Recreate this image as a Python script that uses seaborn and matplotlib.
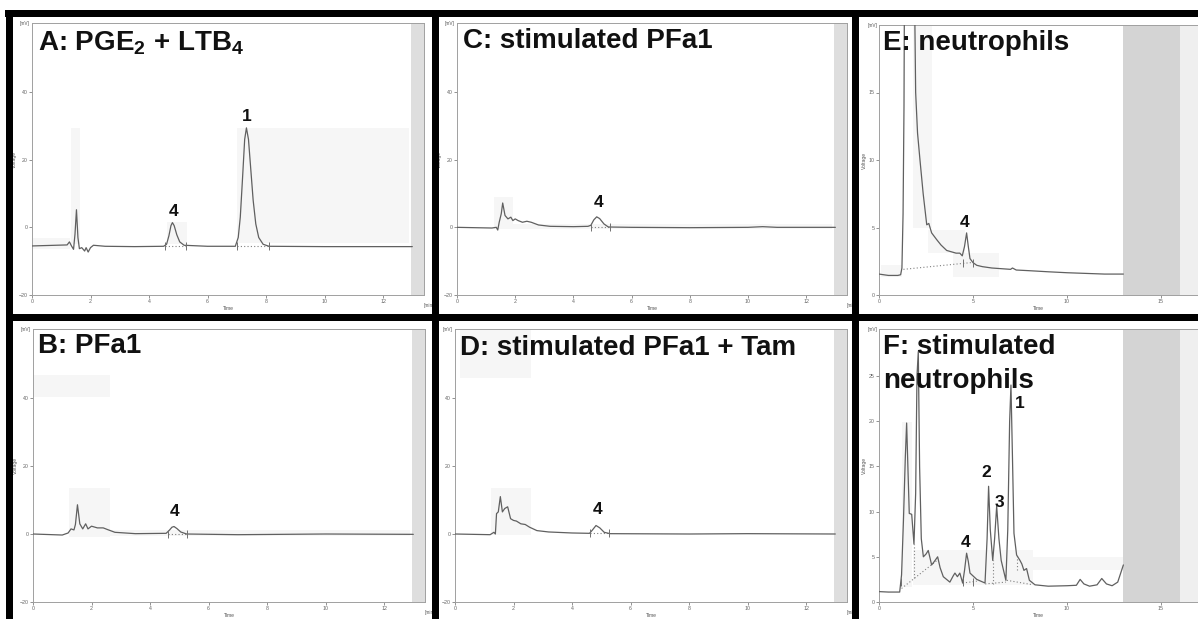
import matplotlib.pyplot as plt
import matplotlib.patches as mpatches
import seaborn as sns

# chromatogram traces: time [min] vs voltage [mV]
a_time = [0, 1.2, 1.28, 1.35, 1.42, 1.47, 1.52, 1.57, 1.62, 1.7, 1.8, 1.85, 1.92, 2.0, 2.1, 2.5, 3.5, 4.5, 4.6, 4.68,
          4.75, 4.8, 4.86, 4.95, 5.05, 5.2, 6.0, 6.95, 7.05, 7.12, 7.2, 7.27, 7.33, 7.4, 7.48, 7.56, 7.65, 7.75, 7.9, 8.1,
          10, 13.0]
a_mv = [-5.5, -5.2, -4.3, -5.5, -6.5, -2, 5.2, -3, -6.3, -6.0, -7.0, -6.0, -7.3, -6.0, -5.3, -5.6, -5.7, -5.6, -5.0, -2.5,
        0.5, 1.4, 0.5, -2.2, -4.3, -5.3, -5.6, -5.6, -3, 3, 15, 26, 29.4, 26, 17, 8, 1, -3, -5, -5.6,
        -5.7, -5.7]

b_time = [0, 1.0, 1.2, 1.3, 1.4, 1.45, 1.52, 1.6, 1.7, 1.8, 1.88, 2.0, 2.2, 2.4, 2.55, 2.8, 3.5, 4.55, 4.65, 4.75,
          4.82, 4.92, 5.05, 5.25, 7, 10, 13]
b_mv = [0, -0.3, 0.3, 1.5, 1.2, 2.8, 8.6, 3, 1.5, 3, 1.5, 2.3, 1.8, 1.8, 1.3, 0.5, 0.1, 0.2, 1.0, 2.0,
        2.2, 1.6, 0.6, 0, -0.2, 0, -0.1]

c_time = [0, 1.2, 1.35, 1.4, 1.45, 1.52, 1.57, 1.65, 1.75, 1.85, 1.92, 2.0, 2.1, 2.25, 2.4, 2.55, 2.8, 3.2, 4.0, 4.5,
          4.6, 4.7, 4.8, 4.9, 5.05, 5.2, 6, 8, 10, 10.5, 11, 13]
c_mv = [0, -0.2, 0, -0.8, 1.5, 4, 7.2, 3.5, 2.5, 3.0, 2.0, 2.5, 2.0, 1.5, 1.8, 1.5, 0.7, 0.3, 0.2, 0.3,
        0.6, 2.2, 3.1, 2.6, 1.0, 0.1, 0, -0.1, 0, 0.2, 0, 0]

d_time = [0, 1.2, 1.33, 1.38, 1.42, 1.48, 1.55, 1.62, 1.7, 1.8, 1.9, 2.0, 2.1, 2.25, 2.4, 2.55, 2.8, 3.2, 4.0, 4.6,
          4.7, 4.82, 4.95, 5.1, 5.3, 8, 10, 13]
d_mv = [0, -0.2, 0.5, 0, 6, 6.5, 11, 6.5, 7.5, 8.0, 4.5, 4, 3.8, 3, 2.8, 2.0, 1.0, 0.6, 0.3, 0.2,
        1.2, 2.5, 1.8, 0.5, 0.1, 0, 0.1, 0]

e_time = [0, 0.5, 1.0, 1.15, 1.22, 1.28, 1.33, 1.4, 1.85, 1.91, 1.95, 2.05, 2.18, 2.35, 2.54, 2.65, 2.8, 3.07, 3.3, 3.6,
          4.1, 4.3, 4.43, 4.55, 4.66, 4.75, 4.84, 5.0, 5.2, 5.5, 6.0, 6.5, 7.0, 7.1, 7.3, 8, 9, 10, 11, 12, 13]
e_mv = [1.55, 1.45, 1.45, 1.5, 2.0, 6, 14, 40, 40, 20, 15, 12, 10, 7.5, 5.2, 5.3, 4.6, 4.1, 3.7, 3.3,
        3.1, 3.1, 2.9, 3.6, 4.6, 3.6, 2.7, 2.4, 2.2, 2.1, 2.0, 1.95, 1.9, 2.0, 1.85, 1.8, 1.72, 1.65, 1.6, 1.55, 1.55]

f_time = [0, 0.5, 1.1, 1.2, 1.3, 1.4, 1.47, 1.55, 1.61, 1.74, 1.86, 1.95, 2.02, 2.09, 2.16, 2.25, 2.36, 2.5, 2.62, 2.8,
          2.95, 3.12, 3.25, 3.42, 3.77, 3.95, 4.04, 4.17, 4.3, 4.45, 4.55, 4.66, 4.75, 4.84, 5.2, 5.64, 5.75, 5.83, 5.92,
          6.05, 6.15, 6.26, 6.38, 6.5, 6.75, 6.85, 6.95, 7.02, 7.1, 7.18, 7.32, 7.5, 7.6, 7.71, 7.85, 8.0, 8.3, 9.0,
          10.0, 10.5, 10.7, 10.9, 11.2, 11.6, 11.85, 12.1, 12.4, 12.7, 13.0]
f_mv = [1.15, 1.1, 1.1, 3, 9, 16, 19.8, 14, 9.8, 9.7, 6.4, 12, 25, 27.7, 15, 7, 5.0, 5.3, 5.7, 4.1,
        4.5, 5.0, 3.8, 2.8, 2.2, 2.9, 3.2, 2.8, 3.2, 2.1, 3.5, 5.4, 4.5, 3.2, 2.5, 2.1, 7, 12.8, 8,
        4.6, 7, 10.6, 7, 4.6, 2.4, 8, 20, 24, 16, 7.6, 5.2, 4.6, 4.2, 3.5, 3.7, 2.4, 1.9, 1.75,
        1.8, 1.85, 2.5, 2.0, 1.75, 1.9, 2.6, 2.0, 1.8, 2.2, 4.1]

# peak labels (text, time, mV)
a_peaks = [('1', 7.34, 32.7), ('4', 4.83, 4.7)]
b_peaks = [('4', 4.85, 6.6)]
c_peaks = [('4', 4.85, 7.2)]
d_peaks = [('4', 4.88, 7.1)]
e_peaks = [('4', 4.57, 5.4)]
f_peaks = [('1', 7.5, 22.0), ('2', 5.7, 14.3), ('3', 6.4, 11.0), ('4', 4.6, 6.6)]

# integration tick marks (time) and dotted baselines (t0, v0, t1, v1)
a_marks = [4.55, 5.25, 7.0, 8.1]
b_marks = [4.6, 5.25]
c_marks = [4.6, 5.25]
d_marks = [4.6, 5.25]
e_marks = [4.45, 5.0]
f_marks = [1.15, 4.45, 5.0]
a_dots = [(4.55, -5.5, 5.25, -5.5), (7.0, -5.5, 8.1, -5.5)]
b_dots = [(4.6, 0.1, 5.25, 0.1)]
c_dots = [(4.6, 0.2, 5.25, 0.2)]
d_dots = [(4.6, 0.2, 5.25, 0.2)]
e_dots = [(1.3, 1.9, 4.9, 2.4)]
f_dots = [(1.2, 1.5, 3.15, 4.7), (1.86, 2.6, 1.86, 6.4), (4.45, 2.1, 5.2, 2.3), (5.65, 2.0, 6.75, 2.2),
          (6.05, 2.0, 6.05, 4.6), (6.8, 2.4, 8.2, 1.9), (7.32, 3.5, 7.32, 5.2)]

# faint integration windows (t0, t1, v0, v1)
a_boxes = [(0, 1.3, -6.5, -3.2), (1.34, 1.64, -5, 29.5), (4.6, 5.3, -5, 1.5), (7.0, 12.9, -4.5, 29.5)]
b_boxes = [(0, 2.63, 40.3, 46.8), (1.23, 2.63, -0.9, 13.5), (2.63, 12.9, -0.5, 1.2)]
c_boxes = [(1.27, 1.92, -0.5, 9), (1.92, 12.9, -0.5, 1.0)]
d_boxes = [(0.17, 2.6, 45.9, 60), (1.23, 2.6, -0.3, 13.5)]
e_boxes = [(0.1, 1.2, 1.3, 2.2), (1.8, 2.8, 5.0, 19.9), (2.6, 4.6, 3.1, 4.8), (3.95, 6.4, 1.35, 3.1)]
f_boxes = [(1.2, 1.74, 1.7, 19.9), (1.8, 8.2, 1.9, 5.75), (5.7, 13.0, 3.5, 5.0)]

W, H = 1198, 619
sns.set_theme(style='white')
plt.rcParams['font.family'] = ['Liberation Sans', 'DejaVu Sans']
plt.rcParams['mathtext.fontset'] = 'custom'
plt.rcParams['mathtext.bf'] = 'Liberation Sans:bold'
plt.rcParams['mathtext.rm'] = 'Liberation Sans:bold'

fig = plt.figure(figsize=(W / 100, H / 100), dpi=100)
fig.patch.set_facecolor('white')


def px_axes(left, top, right, bottom):
    return fig.add_axes([left / W, 1 - bottom / H, (right - left) / W, (bottom - top) / H])


def fig_text(x, y, s, **kw):
    fig.text(x / W, 1 - y / H, s, **kw)


panels = [
    dict(t=a_time, v=a_mv, box=(32, 23, 424, 295), xlim=(0, 13.4), ylim=(-20, 60.4), xt=range(0, 13, 2),
         yt=[-20, 0, 20, 40], peaks=a_peaks, marks=a_marks, dots=a_dots, boxes=a_boxes, mh=1.2, base=-5.5),
    dict(t=b_time, v=b_mv, box=(33, 329, 425, 602), xlim=(0, 13.4), ylim=(-20, 60.3), xt=range(0, 13, 2),
         yt=[-20, 0, 20, 40], peaks=b_peaks, marks=b_marks, dots=b_dots, boxes=b_boxes, mh=1.2, base=0.1),
    dict(t=c_time, v=c_mv, box=(457, 23, 847, 295), xlim=(0, 13.4), ylim=(-20, 60.4), xt=range(0, 13, 2),
         yt=[-20, 0, 20, 40], peaks=c_peaks, marks=c_marks, dots=c_dots, boxes=c_boxes, mh=1.2, base=0.2),
    dict(t=d_time, v=d_mv, box=(455, 329, 847, 602), xlim=(0, 13.4), ylim=(-20, 60.3), xt=range(0, 13, 2),
         yt=[-20, 0, 20, 40], peaks=d_peaks, marks=d_marks, dots=d_dots, boxes=d_boxes, mh=1.2, base=0.2),
    dict(t=e_time, v=e_mv, box=(879, 25, 1198, 295), xlim=(0, 16.97), ylim=(0, 20), xt=[0, 5, 10, 15],
         yt=[0, 5, 10, 15], peaks=e_peaks, marks=e_marks, dots=e_dots, boxes=e_boxes, mh=0.3, base=2.4),
    dict(t=f_time, v=f_mv, box=(879, 329, 1198, 602), xlim=(0, 16.97), ylim=(0, 30.2), xt=[0, 5, 10, 15],
         yt=[0, 5, 10, 15, 20, 25], peaks=f_peaks, marks=f_marks, dots=f_dots, boxes=f_boxes, mh=0.45, base=2.2),
]

line_col = '#606060'
for i, p in enumerate(panels):
    ax = px_axes(*p['box'])
    ax.set_facecolor('white')
    for x0, x1, y0, y1 in p['boxes']:
        ax.add_patch(mpatches.Rectangle((x0, y0), x1 - x0, y1 - y0, color='#f6f6f6', lw=0, zorder=0))
    if p['xlim'][1] > 15:
        ax.axvspan(13.0, 16.0, color='#d4d4d4', lw=0, zorder=0)
        ax.axvspan(16.0, p['xlim'][1], color='#efefef', lw=0, zorder=0)
    else:
        ax.axvspan(12.95, p['xlim'][1], color='#dedede', lw=0, zorder=0)
    sns.lineplot(x=p['t'], y=p['v'], ax=ax, color=line_col, lw=0.9, sort=False, estimator=None, zorder=3)
    for x0, y0, x1, y1 in p['dots']:
        ax.plot([x0, x1], [y0, y1], color='#808080', lw=0.8, ls=(0, (1, 2)), zorder=2)
    for m in p['marks']:
        ax.vlines(m, p['base'] - p['mh'], p['base'] + p['mh'], color='#707070', lw=0.7, zorder=3)
    for s, x, y in p['peaks']:
        ax.text(x, y, s, ha='center', va='center', fontsize=12.5, fontweight='bold', color='#111111', zorder=5)
    ax.set_xlim(*p['xlim'])
    ax.set_ylim(*p['ylim'])
    ax.set_xticks(list(p['xt']))
    ax.set_yticks(p['yt'])
    ax.tick_params(axis='both', length=2, width=0.5, pad=1, labelsize=3.8, colors='#666666',
                   bottom=True, left=True, direction='out')
    for sp in ax.spines.values():
        sp.set_color('#a0a0a0')
        sp.set_linewidth(0.7)
    ax.set_xlabel('Time', fontsize=3.6, labelpad=1, color='#555555')
    ax.set_ylabel('Voltage', fontsize=3.6, labelpad=1, color='#555555')
    ax.text(-0.006, 1.0, '[mV]', transform=ax.transAxes, ha='right', va='center', fontsize=3.4, color='#555555')
    if p['xlim'][1] < 15:
        ax.text(1.0, -0.03, '[min]', transform=ax.transAxes, ha='left', va='top', fontsize=3.4, color='#555555')

# panel titles
title_kw = dict(fontsize=20, fontweight='bold', color='#111111', va='baseline', ha='left', zorder=20)
fig_text(38, 50, r'A: PGE$_\mathbf{2}$ + LTB$_\mathbf{4}$', **title_kw)
fig_text(38, 353, 'B: PFa1', **title_kw)
fig_text(463, 48, 'C: stimulated PFa1', **title_kw)
fig_text(460, 355, 'D: stimulated PFa1 + Tam', **title_kw)
fig_text(883, 50, 'E: neutrophils', **title_kw)
fig_text(883, 354, 'F: stimulated', **title_kw)
fig_text(883, 388, 'neutrophils', **title_kw)

# thick black frame
bars = [(5, 10, 1198, 17), (6, 10, 13, 619), (432, 10, 439, 619), (852, 10, 859, 619), (6, 314, 1198, 321)]
for x0, y0, x1, y1 in bars:
    fig.add_artist(mpatches.Rectangle((x0 / W, 1 - y1 / H), (x1 - x0) / W, (y1 - y0) / H,
                                      transform=fig.transFigure, color='black', lw=0, zorder=30))

fig.savefig('out.png', dpi=100, facecolor='white')
